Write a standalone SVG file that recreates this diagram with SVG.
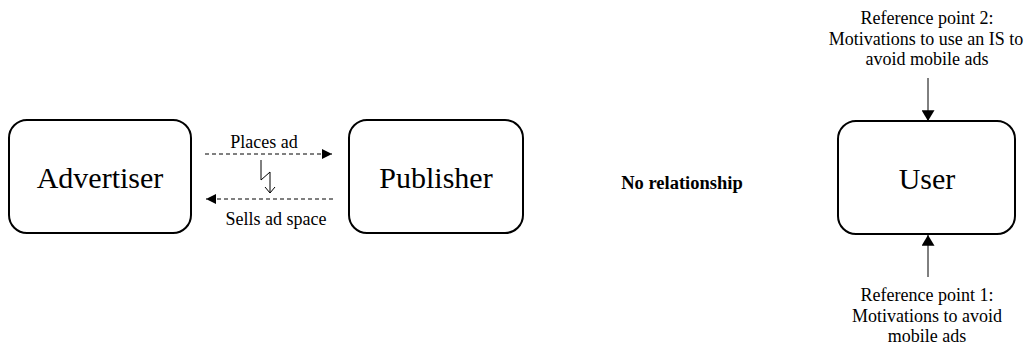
<svg xmlns="http://www.w3.org/2000/svg" width="1029" height="347" viewBox="0 0 1029 347" font-family="Liberation Serif, Times New Roman, serif">
  <style>
    .box { fill: #ffffff; stroke: #000000; stroke-width: 2; }
    .big { font-size: 30px; fill: #000; text-anchor: middle; }
    .small { font-size: 18px; fill: #000; text-anchor: middle; }
    .bold { font-size: 18.5px; font-weight: bold; fill: #000; text-anchor: middle; }
    .dash { stroke: #000; stroke-width: 1; stroke-dasharray: 4 3; fill: none; }
    .solid { stroke: #000; stroke-width: 1; fill: none; }
  </style>
  <defs>
    <marker id="head" viewBox="0 0 10 10" refX="10" refY="5" markerWidth="10" markerHeight="10" markerUnits="userSpaceOnUse" orient="auto">
      <path d="M0,0 L10,5 L0,10 Z" fill="#000"/>
    </marker>
    <marker id="headTall" viewBox="0 0 10 12" refX="10" refY="6" markerWidth="12" markerHeight="13" markerUnits="userSpaceOnUse" orient="auto">
      <path d="M0,0 L10,6 L0,12 Z" fill="#000"/>
    </marker>
  </defs>

  <!-- nodes -->
  <g id="advertiser">
    <rect class="box" x="9" y="120" width="182" height="113" rx="18" ry="18"/>
    <text class="big" x="100" y="188">Advertiser</text>
  </g>
  <g id="publisher">
    <rect class="box" x="349" y="120" width="174" height="113" rx="18" ry="18"/>
    <text class="big" x="436" y="188">Publisher</text>
  </g>
  <g id="no-relationship">
    <text class="bold" x="682" y="189">No relationship</text>
  </g>
  <g id="user">
    <rect class="box" x="838" y="121" width="177" height="113" rx="18" ry="18"/>
    <text class="big" x="927" y="189">User</text>
  </g>
  <g id="reference-point-2">
    <text class="small" x="927" y="24">Reference point 2:</text>
    <text class="small" x="926" y="45">Motivations to use an IS to</text>
    <text class="small" x="927" y="65">avoid mobile ads</text>
  </g>
  <g id="reference-point-1">
    <text class="small" x="927" y="301">Reference point 1:</text>
    <text class="small" x="927" y="322">Motivations to avoid</text>
    <text class="small" x="927" y="342">mobile ads</text>
  </g>

  <!-- connectors -->
  <g id="connectors">
    <line class="dash" x1="205" y1="154" x2="332" y2="154" marker-end="url(#head)"/>
    <text class="small" x="264" y="148">Places ad</text>
    <line class="dash" x1="333" y1="199" x2="206" y2="199" marker-end="url(#head)"/>
    <text class="small" x="276" y="225">Sells ad space</text>
    <!-- disruption bolt -->
    <path class="solid" d="M261,160 L261,180 L270,172 L270,193"/>
    <path class="solid" d="M265,187 L270,193 L275,187"/>
    <line class="solid" x1="928" y1="78" x2="928" y2="121" marker-end="url(#headTall)"/>
    <line class="solid" x1="928" y1="277" x2="928" y2="235" marker-end="url(#headTall)"/>
  </g>
</svg>
